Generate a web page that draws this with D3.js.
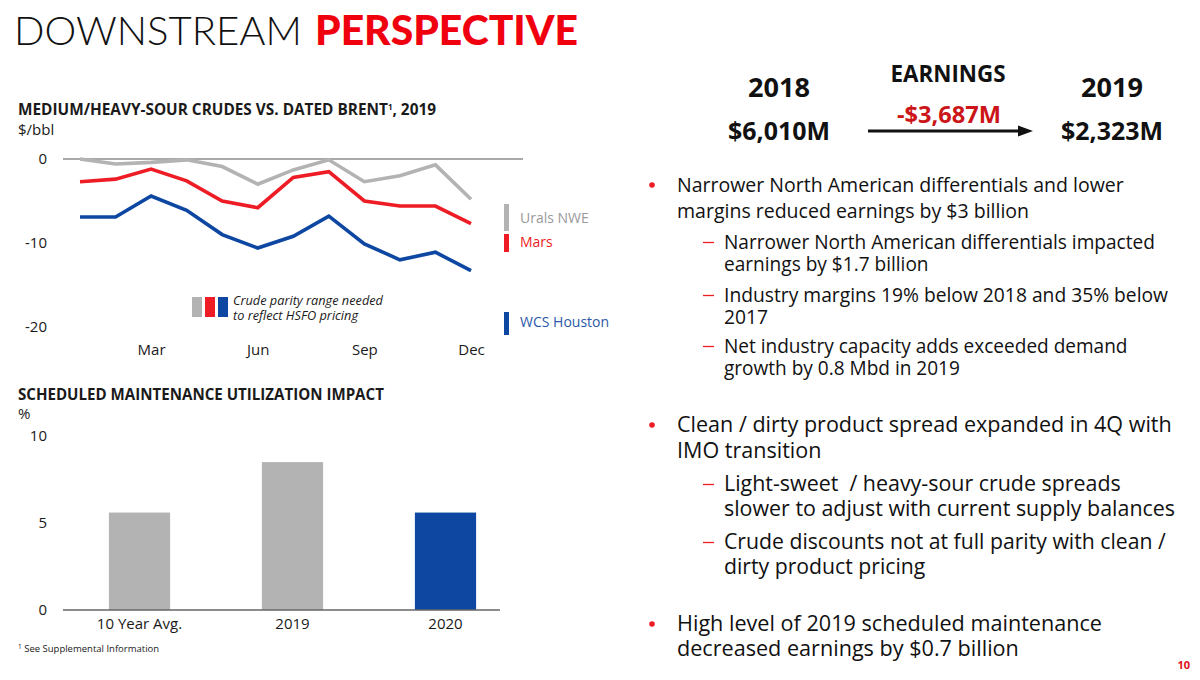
<!DOCTYPE html>
<html><head><meta charset="utf-8">
<script src="https://cdn.jsdelivr.net/npm/d3@7"></script>
<style>
html,body{margin:0;padding:0;background:#fff;}
svg{display:block;font-family:"Open Sans","Noto Sans",sans-serif;}
</style></head>
<body>
<svg id="c" width="1200" height="680"></svg>
<script>
// ---------- data ----------
const months = ["Jan","Feb","Mar","Apr","May","Jun","Jul","Aug","Sep","Oct","Nov","Dec"];
const monthTicks = ["Mar","Jun","Sep","Dec"];
const uralsNWE = [0, -0.6, -0.4, -0.1, -0.9, -3.0, -1.3, -0.1, -2.7, -2.0, -0.7, -4.8];
const mars     = [-2.7, -2.4, -1.2, -2.6, -5.0, -5.8, -2.2, -1.5, -5.0, -5.6, -5.6, -7.7];
const wcsHouston = [-6.9, -6.9, -4.4, -6.1, -9.0, -10.6, -9.2, -6.8, -10.1, -12.0, -11.1, -13.3];
const lineTicks = [0, -10, -20];

const barCategories = ["10 Year Avg.", "2019", "2020"];
const barValues = [5.6, 8.5, 5.6];
const barTicks = [0, 5, 10];

const GRAY = "#b3b3b3", RED = "#ee1c25", BLUE = "#0e47a1", TXT = "#1a1a1a";

const svg = d3.select("#c");

function fit(sel, w){
  const n = sel.node(); const cur = parseFloat(sel.attr("font-size"));
  const lw = n.getComputedTextLength();
  if (lw > 0) sel.attr("font-size", (cur * w / lw).toFixed(2));
  return sel;
}

// ---------- Title ----------
const t1 = svg.append("text").attr("x",14).attr("y",45).attr("font-family","Lato")
  .attr("font-weight",300).attr("font-size",42).attr("fill","#111").text("DOWNSTREAM");
fit(t1, 288);
const t2 = svg.append("text").attr("x",315).attr("y",45).attr("font-family","Lato")
  .attr("font-weight",900).attr("font-size",42).attr("fill","#f0000f").text("PERSPECTIVE");
fit(t2, 263);

// ---------- Line chart ----------
const lt = svg.append("text").attr("x",18).attr("y",115).attr("font-weight",700)
  .attr("font-size",13.5).attr("fill",TXT);
lt.append("tspan").text("MEDIUM/HEAVY-SOUR CRUDES VS. DATED BRENT");
lt.append("tspan").attr("font-size",8).attr("dy",-5).text("1");
lt.append("tspan").attr("dy",5).text(", 2019");
fit(lt, 419);
lt.select("tspan:nth-child(2)").attr("font-size",8);
svg.append("text").attr("x",18).attr("y",135).attr("font-size",15).attr("fill",TXT).text("$/bbl");

const x = d3.scalePoint().domain(months).range([80, 471]);
const y = d3.scaleLinear().domain([-20, 0]).range([327, 159]);

const yAx = svg.append("g").attr("transform","translate(52,0)")
  .call(d3.axisLeft(y).tickValues(lineTicks).tickSize(0).tickPadding(0).tickFormat(d=>String(d)));
yAx.select(".domain").remove();
yAx.selectAll("text").attr("font-size",15).attr("fill",TXT).attr("font-family","Open Sans").attr("dy","0.32em").attr("x",-5);

// zero line
svg.append("line").attr("x1",63).attr("x2",523).attr("y1",y(0)).attr("y2",y(0))
  .attr("stroke","#555").attr("stroke-width",1.2);

const xAx = svg.append("g").attr("transform","translate(0,343)")
  .call(d3.axisBottom(x).tickValues(monthTicks).tickSize(0).tickPadding(0));
xAx.select(".domain").remove();
xAx.selectAll("text").attr("font-size",15).attr("fill",TXT).attr("font-family","Open Sans").attr("dy","0.8em");

const line = d3.line().x((d,i)=>x(months[i])).y(d=>y(d));
[[uralsNWE,GRAY],[mars,RED],[wcsHouston,BLUE]].forEach(([s,c])=>{
  svg.append("path").datum(s).attr("d",line).attr("fill","none").attr("stroke",c)
    .attr("stroke-width",3.6).attr("stroke-linejoin","miter");
});

// series legend
const lg = [
  {name:"Urals NWE", c:GRAY, tc:"#9a9a9a", y0:204, y1:231, ty:223},
  {name:"Mars", c:RED, tc:RED, y0:234, y1:252, ty:247},
  {name:"WCS Houston", c:BLUE, tc:"#2c58a8", y0:312, y1:335, ty:327}
];
lg.forEach(d=>{
  svg.append("rect").attr("x",504).attr("y",d.y0).attr("width",5).attr("height",d.y1-d.y0).attr("fill",d.c);
  svg.append("text").attr("x",520).attr("y",d.ty).attr("font-size",14).attr("fill",d.tc).text(d.name);
});

// parity legend
[GRAY,RED,BLUE].forEach((c,i)=>{
  svg.append("rect").attr("x",192+i*13).attr("y",297).attr("width",10).attr("height",20).attr("fill",c);
});
const pl1 = svg.append("text").attr("x",233).attr("y",305).attr("font-size",12.5).attr("font-style","italic").attr("fill",TXT).text("Crude parity range needed");
fit(pl1,150);
svg.append("text").attr("x",233).attr("y",320).attr("font-size",pl1.attr("font-size")).attr("font-style","italic").attr("fill",TXT).text("to reflect HSFO pricing");

// ---------- Bar chart ----------
const bt = svg.append("text").attr("x",18).attr("y",400).attr("font-weight",700).attr("font-size",13.5).attr("fill",TXT)
  .text("SCHEDULED MAINTENANCE UTILIZATION IMPACT");
fit(bt, 366);
svg.append("text").attr("x",18).attr("y",419).attr("font-size",15).attr("fill",TXT).text("%");

const xb = d3.scaleBand().domain(barCategories).range([63, 522]).paddingInner(0.6).paddingOuter(0.3);
const yb = d3.scaleLinear().domain([0, 10]).range([610, 436]);

const ybAx = svg.append("g").attr("transform","translate(52,0)")
  .call(d3.axisLeft(yb).tickValues(barTicks).tickSize(0).tickPadding(0));
ybAx.select(".domain").remove();
ybAx.selectAll("text").attr("font-size",15).attr("fill",TXT).attr("font-family","Open Sans").attr("dy","0.32em").attr("x",-5);

svg.selectAll("rect.bar").data(barValues).enter().append("rect").attr("class","bar")
  .attr("x",(d,i)=>xb(barCategories[i])).attr("width",xb.bandwidth())
  .attr("y",d=>yb(d)).attr("height",d=>yb(0)-yb(d))
  .attr("fill",(d,i)=> i===2 ? BLUE : GRAY);

svg.append("line").attr("x1",63).attr("x2",500).attr("y1",yb(0)).attr("y2",yb(0))
  .attr("stroke","#666").attr("stroke-width",1.5);

const xbAx = svg.append("g").attr("transform","translate(0,617)")
  .call(d3.axisBottom(xb).tickSize(0).tickPadding(0));
xbAx.select(".domain").remove();
xbAx.selectAll("text").attr("font-size",15).attr("fill",TXT).attr("font-family","Open Sans").attr("dy","0.8em");

const fn = svg.append("text").attr("x",18).attr("y",652).attr("font-size",9.5).attr("fill",TXT);
fn.append("tspan").attr("font-size",6.5).attr("dy",-3).text("1");
fn.append("tspan").attr("dy",3).text(" See Supplemental Information");

// ---------- Earnings header ----------
function ctext(xc, yb_, txt, w, opts){
  const t = svg.append("text").attr("x",xc).attr("y",yb_).attr("text-anchor","middle")
    .attr("font-weight",700).attr("font-size",opts.fs).attr("fill",opts.fill||"#111").text(txt);
  fit(t,w); return t;
}
ctext(948, 82, "EARNINGS", 115, {fs:20});
ctext(779, 97, "2018", 62, {fs:26});
ctext(1112, 97, "2019", 62, {fs:26});
ctext(779, 140, "$6,010M", 102, {fs:26});
ctext(1112, 140, "$2,323M", 102, {fs:26});
ctext(949, 123, "-$3,687M", 104, {fs:22, fill:"#cc1518"});
svg.append("line").attr("x1",868).attr("x2",1020).attr("y1",131).attr("y2",131)
  .attr("stroke","#111").attr("stroke-width",3);
svg.append("path").attr("d","M1033,131 L1018,125.5 L1018,136.5 Z").attr("fill","#111");

// ---------- Bullets ----------
const blocks = [
  {lvl:1, lines:["Narrower North American differentials and lower","margins reduced earnings by $3 billion"], ys:[192,218], w:447},
  {lvl:2, lines:["Narrower North American differentials impacted","earnings by $1.7 billion"], ys:[249,271], w:431},
  {lvl:2, lines:["Industry margins 19% below 2018 and 35% below","2017"], ys:[302,324], w:444},
  {lvl:2, lines:["Net industry capacity adds exceeded demand","growth by 0.8 Mbd in 2019"], ys:[353,375], w:404},
  {lvl:1, lines:["Clean / dirty product spread expanded in 4Q with","IMO transition"], ys:[432,458], w:495},
  {lvl:2, lines:["Light-sweet  / heavy-sour crude spreads","slower to adjust with current supply balances"], ys:[491,516], w:451, fitLine:1},
  {lvl:2, lines:["Crude discounts not at full parity with clean /","dirty product pricing"], ys:[549,574], w:442, fitLine:0},
  {lvl:1, lines:["High level of 2019 scheduled maintenance","decreased earnings by $0.7 billion"], ys:[631,656], w:425}
];
blocks.forEach(b=>{
  const tx = b.lvl===1 ? 677 : 724;
  const ts = b.lines.map((l,i)=> svg.append("text").attr("x",tx).attr("y",b.ys[i])
      .attr("font-size",20).attr("fill","#111").style("white-space","pre").attr("xml:space","preserve").text(l));
  const fi = b.fitLine||0;
  fit(ts[fi], b.w);
  const fs = ts[fi].attr("font-size");
  ts.forEach(t=>t.attr("font-size",fs));
  if (b.lvl===1){
    svg.append("circle").attr("cx",652).attr("cy",b.ys[0]-7).attr("r",2.8).attr("fill",RED);
  } else {
    svg.append("line").attr("x1",703).attr("x2",714).attr("y1",b.ys[0]-6.5).attr("y2",b.ys[0]-6.5)
      .attr("stroke",RED).attr("stroke-width",1.3);
  }
});

svg.append("text").attr("x",1190).attr("y",669).attr("text-anchor","end").attr("font-weight",700)
  .attr("font-size",11).attr("fill","#e0101a").text("10");
</script>
</body></html>
